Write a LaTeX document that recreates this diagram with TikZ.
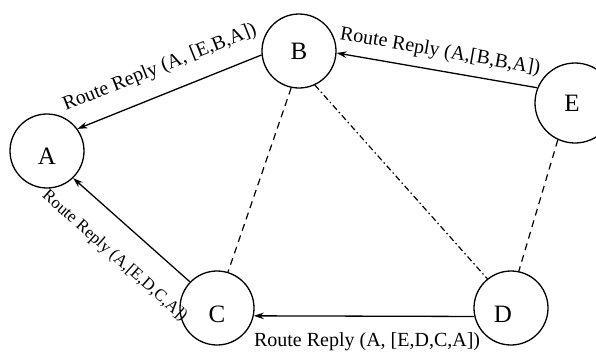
\documentclass[tikz,border=0pt]{standalone}
\usepackage{fontspec}
\setmainfont{Liberation Serif}
\usetikzlibrary{arrows.meta}
\begin{document}
\begin{tikzpicture}[x=1pt, y=-1pt,
  station/.style={circle, draw, line width=1.3pt, minimum size=74pt, inner sep=0pt},
  lett/.style={font=\fontsize{25}{25}\selectfont, inner sep=0pt},
  msg/.style={font=\fontsize{20}{20}\selectfont, inner sep=0pt},
  msgsmall/.style={font=\fontsize{17}{17}\selectfont, inner sep=0pt},
  reply/.style={line width=1.3pt, -{Stealth[length=10pt,width=6.5pt]}},
  link/.style={line width=1.2pt, dash pattern=on 7pt off 5pt},
  linkdd/.style={line width=1.2pt, dash pattern=on 6pt off 3pt on 1.5pt off 3pt}]
\useasboundingbox (0,0) rectangle (596,351);
\clip (0,0) rectangle (596,351);
\node[station, label={[lett, yshift=-5pt]center:A}] (A) at (47,151) {};
\node[station, label={[lett]center:B}] (B) at (299,51) {};
\node[station, minimum size=80pt, label={[lett, xshift=-3pt]center:E}] (E) at (575,103) {};
\node[station, label={[lett, yshift=-6pt]center:C}] (C) at (217,308) {};
\node[station, label={[lett, xshift=-8pt, yshift=-6pt]center:D}] (D) at (511,308) {};
\draw[reply] (B.186) -- node[msg, sloped, midway, anchor=base, yshift=21pt] (lab1) {Route Reply (A, [E,B,A])} (A.36);
\draw[reply] (E.158) -- node[msg, sloped, midway, anchor=base, yshift=14pt] (lab2) {Route Reply (A,[B,B,A])} (B.357);
\draw[reply] (C.136) -- node[msgsmall, sloped, pos=0.47, yshift=-31pt] (lab3) {Route Reply (A,[E,D,C,A])} (A.314);
\draw[reply] (D.193) -- node[msg, midway, anchor=base, yshift=-30pt, xshift=3pt] (lab4) {Route Reply (A, [E,D,C,A])} (C.348);
\draw[link] (B.258) -- (C.73);
\draw[linkdd] (B.295) -- (D.129);
\draw[link] (E.245) -- (D.78);
\end{tikzpicture}
\end{document}
